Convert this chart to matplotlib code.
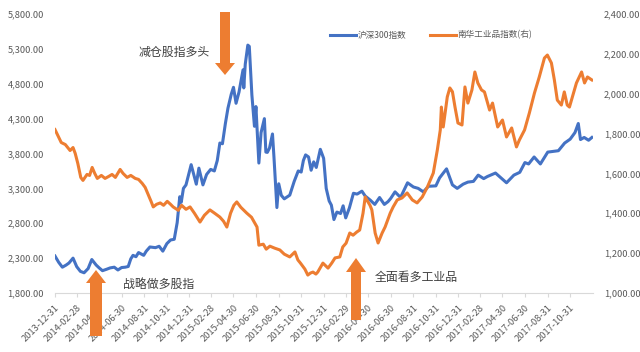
import matplotlib.pyplot as plt
from matplotlib.patches import FancyArrow
from matplotlib.ticker import FuncFormatter, MultipleLocator
import pandas as pd

plt.rcParams['font.family'] = ['Noto Sans CJK SC', 'DejaVu Sans']

# --- data ---
csi_dates = [
    '2013-12-31', '2014-01-10', '2014-01-20', '2014-01-30', '2014-02-07', '2014-02-18',
    '2014-02-28', '2014-03-10', '2014-03-20', '2014-03-31', '2014-04-10', '2014-04-22',
    '2014-04-30', '2014-05-09', '2014-05-20', '2014-05-30', '2014-06-10', '2014-06-20',
    '2014-06-30', '2014-07-10', '2014-07-18', '2014-07-25', '2014-07-31', '2014-08-08',
    '2014-08-15', '2014-08-29', '2014-09-05', '2014-09-15', '2014-09-30', '2014-10-10',
    '2014-10-20', '2014-10-31', '2014-11-10', '2014-11-20', '2014-11-28', '2014-12-05',
    '2014-12-09', '2014-12-15', '2014-12-22', '2014-12-31', '2015-01-05', '2015-01-19',
    '2015-01-26', '2015-02-06', '2015-02-16', '2015-02-27', '2015-03-09', '2015-03-17',
    '2015-03-24', '2015-03-31', '2015-04-08', '2015-04-15', '2015-04-24', '2015-04-30',
    '2015-05-07', '2015-05-15', '2015-05-26', '2015-05-28', '2015-06-01', '2015-06-08',
    '2015-06-12', '2015-06-19', '2015-06-26', '2015-06-30', '2015-07-08', '2015-07-14',
    '2015-07-23', '2015-07-27', '2015-07-31', '2015-08-06', '2015-08-14', '2015-08-18',
    '2015-08-26', '2015-08-31', '2015-09-07', '2015-09-15', '2015-09-30', '2015-10-12',
    '2015-10-23', '2015-10-31', '2015-11-06', '2015-11-12', '2015-11-20', '2015-11-27',
    '2015-12-04', '2015-12-11', '2015-12-22', '2015-12-31', '2016-01-07', '2016-01-15',
    '2016-01-21', '2016-01-28', '2016-02-05', '2016-02-15', '2016-02-22', '2016-02-29',
    '2016-03-10', '2016-03-21', '2016-03-31', '2016-04-13', '2016-04-22', '2016-05-06',
    '2016-05-18', '2016-05-31', '2016-06-13', '2016-06-23', '2016-06-30', '2016-07-12',
    '2016-07-27', '2016-08-15', '2016-08-31', '2016-09-13', '2016-09-27', '2016-10-11',
    '2016-10-31', '2016-11-10', '2016-11-29', '2016-12-15', '2016-12-28', '2017-01-13',
    '2017-01-26', '2017-02-10', '2017-02-23', '2017-03-10', '2017-03-20', '2017-04-11',
    '2017-04-28', '2017-05-11', '2017-05-31', '2017-06-16', '2017-06-30', '2017-07-10',
    '2017-07-25', '2017-08-11', '2017-08-31', '2017-09-15', '2017-09-29', '2017-10-16',
    '2017-10-31', '2017-11-13', '2017-11-22', '2017-11-28', '2017-12-08', '2017-12-20',
    '2017-12-29',
]
csi_values = [
    2330, 2240, 2170, 2200, 2230, 2300,
    2178, 2110, 2090, 2150, 2280, 2200,
    2160, 2120, 2140, 2160, 2170, 2130,
    2165, 2170, 2180, 2290, 2340, 2320,
    2380, 2340, 2400, 2460, 2450, 2470,
    2400, 2508, 2560, 2570, 2808, 3180,
    3100, 3300, 3350, 3533, 3640, 3360,
    3590, 3350, 3500, 3572, 3550, 3700,
    3950, 3940, 4230, 4450, 4650, 4749,
    4520, 4680, 5000, 4740, 5080, 5354,
    5335, 4640, 4190, 4473, 3663, 4100,
    4300, 3820, 3816, 3880, 4080, 3750,
    3025, 3366, 3200, 3150, 3203, 3400,
    3550, 3534, 3700, 3780, 3750, 3560,
    3680, 3600, 3860, 3731, 3300, 3120,
    3060, 2853, 2960, 2940, 3050, 2877,
    3020, 3230, 3218, 3260, 3190, 3130,
    3070, 3169, 3070, 3110, 3154, 3250,
    3170, 3380, 3320, 3300, 3250, 3330,
    3336, 3450, 3580, 3350, 3300, 3360,
    3390, 3400, 3490, 3440, 3470, 3520,
    3440, 3380, 3490, 3530, 3670, 3650,
    3750, 3650, 3820, 3830, 3840, 3950,
    4006, 4100, 4230, 4000, 4030, 3990,
    4030,
]

nh_dates = [
    '2013-12-31', '2014-01-08', '2014-01-17', '2014-01-28', '2014-02-10', '2014-02-18',
    '2014-02-24', '2014-03-03', '2014-03-11', '2014-03-17', '2014-03-28', '2014-04-04',
    '2014-04-11', '2014-04-18', '2014-04-25', '2014-05-06', '2014-05-16', '2014-05-26',
    '2014-06-04', '2014-06-13', '2014-06-26', '2014-07-04', '2014-07-15', '2014-07-25',
    '2014-08-06', '2014-08-15', '2014-08-25', '2014-09-02', '2014-09-10', '2014-09-18',
    '2014-09-24', '2014-10-03', '2014-10-13', '2014-10-22', '2014-11-01', '2014-11-10',
    '2014-11-17', '2014-12-01', '2014-12-10', '2014-12-22', '2015-01-02', '2015-01-14',
    '2015-01-29', '2015-02-10', '2015-02-25', '2015-03-10', '2015-03-24', '2015-04-03',
    '2015-04-12', '2015-04-22', '2015-05-01', '2015-05-09', '2015-05-20', '2015-06-05',
    '2015-06-18', '2015-07-03', '2015-07-08', '2015-07-20', '2015-07-28', '2015-08-07',
    '2015-08-20', '2015-09-03', '2015-09-15', '2015-09-30', '2015-10-14', '2015-10-22',
    '2015-10-29', '2015-11-10', '2015-11-18', '2015-11-25', '2015-12-02', '2015-12-10',
    '2015-12-15', '2015-12-29', '2016-01-12', '2016-01-22', '2016-01-31', '2016-02-13',
    '2016-02-21', '2016-03-01', '2016-03-11', '2016-03-20', '2016-03-30', '2016-04-07',
    '2016-04-16', '2016-04-22', '2016-04-27', '2016-05-05', '2016-05-10', '2016-05-19',
    '2016-05-27', '2016-06-07', '2016-06-15', '2016-06-29', '2016-07-07', '2016-07-18',
    '2016-07-31', '2016-08-14', '2016-08-28', '2016-09-10', '2016-09-24', '2016-10-08',
    '2016-10-24', '2016-11-04', '2016-11-12', '2016-11-15', '2016-11-20', '2016-12-01',
    '2016-12-08', '2016-12-15', '2016-12-22', '2016-12-30', '2017-01-10', '2017-01-18',
    '2017-01-26', '2017-02-06', '2017-02-14', '2017-02-22', '2017-03-04', '2017-03-12',
    '2017-03-26', '2017-04-03', '2017-04-17', '2017-04-30', '2017-05-11', '2017-05-25',
    '2017-06-07', '2017-06-15', '2017-06-29', '2017-07-12', '2017-07-26', '2017-08-08',
    '2017-08-22', '2017-08-30', '2017-09-10', '2017-09-18', '2017-09-26', '2017-10-07',
    '2017-10-15', '2017-10-23', '2017-10-29', '2017-11-06', '2017-11-17', '2017-12-01',
    '2017-12-09', '2017-12-17', '2017-12-29',
]
nh_values = [
    1820, 1790, 1755, 1745, 1715, 1730,
    1700, 1650, 1580, 1565, 1595, 1590,
    1630, 1600, 1575, 1590, 1575, 1585,
    1595, 1580, 1620, 1600, 1580, 1590,
    1575, 1570, 1550, 1530, 1495, 1460,
    1432, 1445, 1452, 1440, 1460, 1445,
    1432, 1415, 1440, 1420, 1432, 1400,
    1356, 1390, 1417, 1400, 1381, 1360,
    1331, 1400, 1440, 1457, 1430, 1401,
    1380, 1331, 1240, 1245, 1220, 1235,
    1225, 1216, 1195, 1181, 1206, 1166,
    1150, 1120, 1090, 1100, 1105, 1095,
    1105, 1150, 1125, 1150, 1176, 1181,
    1231, 1250, 1301, 1290, 1306, 1316,
    1400, 1482, 1465, 1440, 1417, 1301,
    1251, 1301, 1331, 1401, 1432, 1467,
    1477, 1502, 1467, 1452, 1482, 1532,
    1602, 1718, 1818, 1933, 1833, 1984,
    2029, 2010, 1933, 1853, 1843, 2034,
    1953, 2019, 2109, 2054, 2019, 2009,
    1918, 1953, 1833, 1868, 1783, 1828,
    1733, 1768, 1818, 1903, 2004, 2084,
    2179, 2194, 2154, 2069, 1968, 1943,
    2009, 1943, 1933, 1984, 2054, 2109,
    2054, 2084, 2069,
]

tick_labels = [
    '2013-12-31', '2014-02-28', '2014-04-30', '2014-06-30', '2014-08-31', '2014-10-31',
    '2014-12-31', '2015-02-28', '2015-04-30', '2015-06-30', '2015-08-31', '2015-10-31',
    '2015-12-31', '2016-02-29', '2016-04-30', '2016-06-30', '2016-08-31', '2016-10-31',
    '2016-12-31', '2017-02-28', '2017-04-30', '2017-06-30', '2017-08-31', '2017-10-31',
]
left_ticks = [1800, 2300, 2800, 3300, 3800, 4300, 4800, 5300, 5800]
right_ticks = [1000, 1200, 1400, 1600, 1800, 2000, 2200, 2400]

BLUE = '#4472C4'
ORANGE = '#ED7D31'
GREY = '#595959'

fig = plt.figure(figsize=(6.4, 3.52), dpi=100)
ax = fig.add_axes([55 / 640, 1 - 293 / 352, 538 / 640, 279 / 352])
ax2 = ax.twinx()

l1, = ax.plot(pd.to_datetime(csi_dates), csi_values, color=BLUE, lw=2.2, label='沪深300指数')
l2, = ax2.plot(pd.to_datetime(nh_dates), nh_values, color=ORANGE, lw=2.2, label='南华工业品指数(右)')

ax.set_xlim(pd.Timestamp('2013-12-31'), pd.Timestamp('2018-01-01'))
ax.set_ylim(1800, 5800)
ax2.set_ylim(1000, 2400)
ax.set_yticks(left_ticks)
ax2.set_yticks(right_ticks)
fmt = FuncFormatter(lambda v, p: f'{v:,.2f}')
ax.yaxis.set_major_formatter(fmt)
ax2.yaxis.set_major_formatter(fmt)

ax.set_xticks(pd.to_datetime(tick_labels))
ax.set_xticklabels(tick_labels, rotation=45, ha='right', rotation_mode='anchor')

for a in (ax, ax2):
    for s in a.spines.values():
        s.set_visible(False)
    a.tick_params(axis='y', length=0, labelsize=6.7, labelcolor=GREY, pad=8)
ax.spines['bottom'].set_visible(True)
ax.spines['bottom'].set_color('#D9D9D9')
ax.tick_params(axis='x', length=3, color='#D9D9D9', labelsize=6.7, labelcolor=GREY, pad=4)

fig.legend(handles=[l1, l2], loc='center left', bbox_to_anchor=(330 / 640, 1 - 35 / 352),
           ncol=2, frameon=False, fontsize=6.2, labelcolor=GREY, handlelength=3.0,
           handletextpad=0.2, columnspacing=2.8, borderpad=0, borderaxespad=0)

# --- annotations ---
def arrow(xc, y0, y1, shaft, head_w, head_l):
    fy0, fy1 = 1 - y0 / 352, 1 - y1 / 352
    fig.patches.append(FancyArrow(xc / 640, fy0, 0, fy1 - fy0, width=shaft / 640,
                                  head_width=head_w / 640, head_length=head_l / 352,
                                  length_includes_head=True, color=ORANGE, lw=0,
                                  transform=fig.transFigure, figure=fig, zorder=5))

arrow(225, 12, 75, 10, 20, 12)
arrow(96, 336, 270, 12, 20, 13)
arrow(356, 320, 258, 10, 20, 14)

fig.text(174 / 640, 1 - 52 / 352, '减仓股指多头', fontsize=8.6, color='#404040', ha='center', va='center')
fig.text(159 / 640, 1 - 284 / 352, '战略做多股指', fontsize=8.6, color='#404040', ha='center', va='center')
fig.text(416 / 640, 1 - 278 / 352, '全面看多工业品', fontsize=8.6, color='#404040', ha='center', va='center')

fig.savefig('out.png', dpi=100)
